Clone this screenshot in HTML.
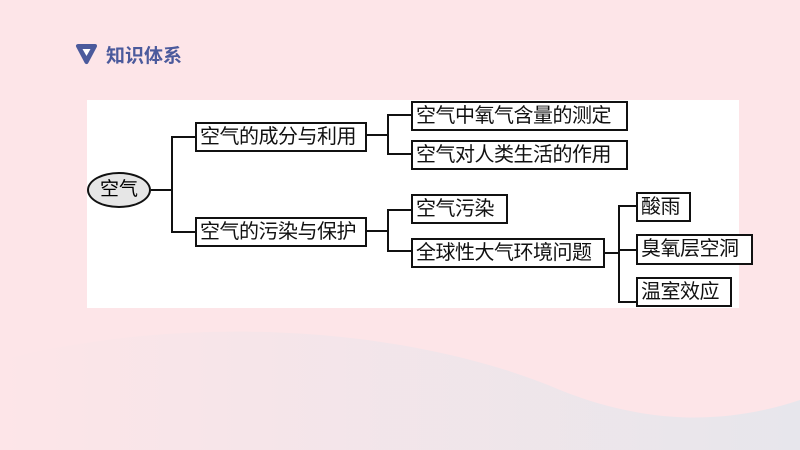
<!DOCTYPE html>
<html><head><meta charset="utf-8"><style>
body{margin:0;width:800px;height:450px;overflow:hidden;background:#fde5e8;font-family:"Liberation Sans","Noto Sans CJK SC",sans-serif;position:relative}
.b{position:absolute;border:2px solid #111;box-sizing:border-box;background:#fff;font-size:20px;line-height:26px;padding-left:3px;color:#111;white-space:nowrap;letter-spacing:-0.5px}
.l{position:absolute;background:#111}
</style></head><body>
<svg style="position:absolute;left:0;top:0" width="800" height="450">
<defs><linearGradient id="g" x1="0" y1="0" x2="1" y2="0"><stop offset="0" stop-color="#fde5e8"/><stop offset="1" stop-color="#d8e6ee"/></linearGradient></defs>
<path d="M0 360 C200 310 420 330 560 390 C660 430 740 420 800 400 L800 450 L0 450Z" fill="url(#g)" opacity="0.6"/>
<path d="M78 46 L95 46 L86.5 62Z" fill="#4b5a9c" stroke="#4b5a9c" stroke-width="4" stroke-linejoin="round"/>
<path d="M82.5 49 L90.5 49 L86.5 56Z" fill="#fff"/>
</svg>
<div style="position:absolute;left:106px;top:41px;font-size:19px;font-weight:bold;color:#4b5a9c">知识体系</div>
<div style="position:absolute;left:87px;top:100px;width:652px;height:208px;background:#fff"></div>
<div style="position:absolute;left:87px;top:172px;width:64px;height:36px;border:2px solid #111;border-radius:50%;box-sizing:border-box;background:#e6e6e6;font-size:19px;line-height:32px;text-align:center">空气</div>
<div class="l" style="left:151px;top:189px;width:21px;height:2px"></div>
<div class="l" style="left:171px;top:136px;width:2px;height:97px"></div>
<div class="l" style="left:171px;top:136px;width:24px;height:2px"></div>
<div class="l" style="left:171px;top:231px;width:24px;height:2px"></div>
<div class="b" style="left:195px;top:122px;width:172px;height:30px">空气的成分与利用</div>
<div class="b" style="left:195px;top:217px;width:172px;height:30px">空气的污染与保护</div>
<div class="l" style="left:367px;top:134px;width:22px;height:2px"></div>
<div class="l" style="left:387px;top:114px;width:2px;height:41px"></div>
<div class="l" style="left:387px;top:114px;width:24px;height:2px"></div>
<div class="l" style="left:387px;top:153px;width:24px;height:2px"></div>
<div class="b" style="left:411px;top:101px;width:217px;height:30px">空气中氧气含量的测定</div>
<div class="b" style="left:411px;top:140px;width:217px;height:30px">空气对人类生活的作用</div>
<div class="l" style="left:367px;top:230px;width:22px;height:2px"></div>
<div class="l" style="left:387px;top:209px;width:2px;height:43px"></div>
<div class="l" style="left:387px;top:209px;width:24px;height:2px"></div>
<div class="l" style="left:387px;top:250px;width:24px;height:2px"></div>
<div class="b" style="left:411px;top:194px;width:97px;height:30px">空气污染</div>
<div class="b" style="left:411px;top:238px;width:194px;height:30px">全球性大气环境问题</div>
<div class="l" style="left:605px;top:252px;width:15px;height:2px"></div>
<div class="l" style="left:618px;top:205px;width:2px;height:98px"></div>
<div class="l" style="left:618px;top:205px;width:18px;height:2px"></div>
<div class="l" style="left:618px;top:249px;width:18px;height:2px"></div>
<div class="l" style="left:618px;top:301px;width:18px;height:2px"></div>
<div class="b" style="left:636px;top:192px;width:55px;height:30px">酸雨</div>
<div class="b" style="left:636px;top:234px;width:117px;height:31px">臭氧层空洞</div>
<div class="b" style="left:636px;top:277px;width:96px;height:30px">温室效应</div>
</body></html>
